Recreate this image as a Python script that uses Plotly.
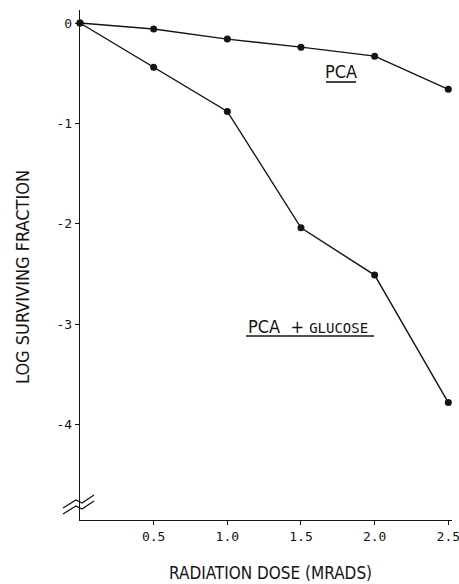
import plotly.graph_objects as go

# Radiation dose (Mrads) and log surviving fraction for each treatment
dose = [0.0, 0.5, 1.0, 1.5, 2.0, 2.5]
pca = [0.0, -0.06, -0.16, -0.24, -0.33, -0.66]
pca_glucose = [0.0, -0.44, -0.88, -2.04, -2.51, -3.78]

x_tick_vals = [0.5, 1.0, 1.5, 2.0, 2.5]
x_tick_text = ["0.5", "1.0", "1.5", "2.0", "2.5"]
y_tick_vals = [0, -1, -2, -3, -4]
y_tick_text = ["0", "-1", "-2", "-3", "-4"]

W, H = 459, 584
ML, MR, MT, MB = 80, 7, 10, 64
PW, PH = W - ML - MR, H - MT - MB

INK = "#141414"
MONO = "DejaVu Sans Mono, Liberation Mono, monospace"
NARROW = "DejaVu Sans Condensed, Liberation Sans Narrow, DejaVu Sans, sans-serif"

fig = go.Figure()
for name, vals in [("PCA", pca), ("PCA + glucose", pca_glucose)]:
    fig.add_trace(go.Scatter(
        x=dose, y=vals, name=name, mode="lines+markers",
        line=dict(color=INK, width=1.4),
        marker=dict(color=INK, size=7),
        cliponaxis=False, showlegend=False,
    ))


def px_to_paper(px, py):
    return (px - ML) / PW, (H - MB - py) / PH


# axis-break mark: two parallel zigzags across the lower y axis
shapes = []
for dy in (0, 6):
    pts = [(63, 508 + dy), (76, 500 + dy), (82, 503 + dy), (94, 495 + dy)]
    pp = [px_to_paper(a, b) for a, b in pts]
    path = "M " + " L ".join(f"{a:.4f},{b:.4f}" for a, b in pp)
    shapes.append(dict(type="path", path=path, xref="paper", yref="paper",
                       line=dict(color=INK, width=1.3)))

# underlines for the curve labels
for x0, x1, y in [(326, 356, 82), (246, 374, 336)]:
    (a0, b0), (a1, _) = px_to_paper(x0, y), px_to_paper(x1, y)
    shapes.append(dict(type="line", xref="paper", yref="paper",
                       x0=a0, x1=a1, y0=b0, y1=b0,
                       line=dict(color=INK, width=1.6)))

ax, ay = px_to_paper(341, 71)
gx, gy = px_to_paper(246, 326)
tx, ty = px_to_paper(270, 573)
yx, yy = px_to_paper(22, 277)

annotations = [
    dict(text="PCA", x=ax, y=ay, xref="paper", yref="paper",
         showarrow=False, xanchor="center", yanchor="middle",
         font=dict(family=NARROW, size=18, color=INK)),
    dict(text=f'PCA  + <span style="font-family:{MONO}; font-size:14px">GLUCOSE</span>',
         x=gx, y=gy, xref="paper", yref="paper",
         showarrow=False, xanchor="left", yanchor="middle",
         font=dict(family=NARROW, size=18, color=INK)),
    dict(text="RADIATION DOSE (MRADS)", x=tx, y=ty, xref="paper", yref="paper",
         showarrow=False, xanchor="center", yanchor="middle",
         font=dict(family=NARROW, size=17, color=INK)),
    dict(text="LOG SURVIVING FRACTION", x=yx, y=yy, xref="paper", yref="paper",
         showarrow=False, xanchor="center", yanchor="middle", textangle=-90,
         font=dict(family=NARROW, size=18, color=INK)),
]

fig.update_layout(
    width=W, height=H,
    margin=dict(l=ML, r=MR, t=MT, b=MB, pad=0, autoexpand=False),
    paper_bgcolor="white", plot_bgcolor="white",
    shapes=shapes, annotations=annotations,
    xaxis=dict(range=[0, 2.525], showgrid=False, zeroline=False,
               automargin=False,
               showline=True, linecolor=INK, linewidth=1.4,
               tickvals=x_tick_vals, ticktext=x_tick_text,
               ticks="outside", ticklen=4, tickcolor=INK, tickwidth=1.2,
               ticklabeloverflow="allow",
               tickfont=dict(family=MONO, size=13, color=INK)),
    yaxis=dict(range=[-4.95, 0.13], showgrid=False, zeroline=False,
               automargin=False,
               showline=True, linecolor=INK, linewidth=1.4,
               tickvals=y_tick_vals, ticktext=y_tick_text,
               ticks="outside", ticklen=4, tickcolor=INK, tickwidth=1.2,
               ticklabeloverflow="allow",
               tickfont=dict(family=MONO, size=13, color=INK)),
)

fig.write_html("out.html")
